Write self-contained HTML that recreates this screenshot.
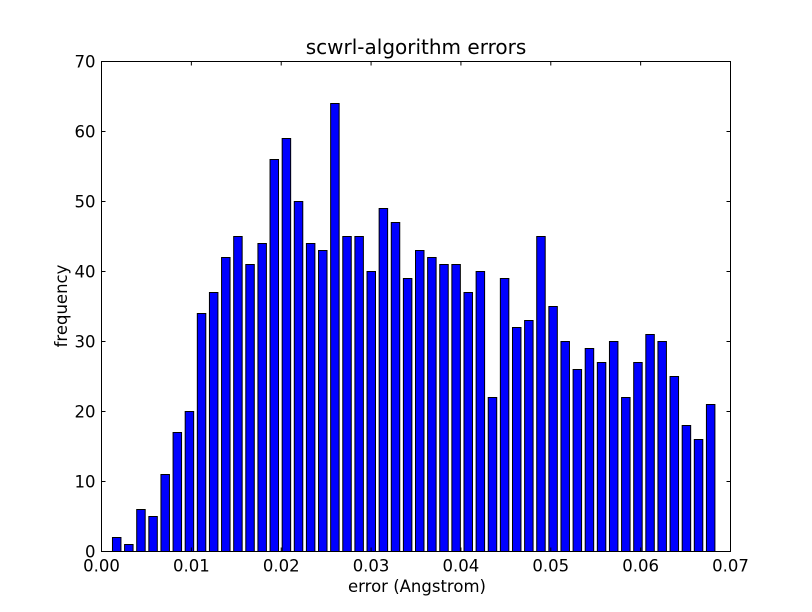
<!DOCTYPE html>
<html><head><meta charset="utf-8"><style>
body{margin:0;background:#fff;}
svg{display:block;font-family:"DejaVu Sans","Liberation Sans",sans-serif;}
</style></head><body>
<svg id="chart" width="812" height="612" viewBox="0 0 812 612">
<rect x="0" y="0" width="812" height="612" fill="#fff"/>
<g id="bars"></g>
<rect x="101.5" y="61.5" width="629" height="490" fill="none" stroke="#000" stroke-width="1"/>
<g id="ticks"></g>
<text x="416" y="54" text-anchor="middle" font-size="20">scwrl-algorithm errors</text>
<text x="417" y="592" text-anchor="middle" font-size="16.5">error (Angstrom)</text>
<text x="0" y="0" transform="translate(67,306) rotate(-90)" text-anchor="middle" font-size="16.5">frequency</text>
</svg>
<script>
const counts = [2,1,6,5,11,17,20,34,37,42,45,41,44,56,59,50,44,43,64,45,45,40,49,47,39,43,42,41,41,37,40,22,39,32,33,45,35,30,26,29,27,30,22,27,31,30,25,18,16,21];
const binStart = 0.00122;
const binWidth = 0.001349;
const xTicks = [0,0.01,0.02,0.03,0.04,0.05,0.06,0.07];
const xTickLabels = ["0.00","0.01","0.02","0.03","0.04","0.05","0.06","0.07"];
const yTicks = [0,10,20,30,40,50,60,70];
const yTickLabels = ["0","10","20","30","40","50","60","70"];

const L=101.5,R=730.5,T=61.5,B=551.5;
const xs = v => L + (v-0)/(0.07)*(R-L);
const ys = v => B - v/70*(B-T);
const NS="http://www.w3.org/2000/svg";
const bars=document.getElementById('bars');
counts.forEach((c,i)=>{
  const x0=xs(binStart+i*binWidth), x1=xs(binStart+i*binWidth+binWidth*0.7);
  const r=document.createElementNS(NS,'rect');
  r.setAttribute('x',x0);r.setAttribute('y',ys(c));
  r.setAttribute('width',x1-x0);r.setAttribute('height',ys(0)-ys(c));
  r.setAttribute('fill','#0000ff');r.setAttribute('stroke','#000');r.setAttribute('stroke-width','1');
  
  
  bars.appendChild(r);
});
const tg=document.getElementById('ticks');
function line(x1,y1,x2,y2){const l=document.createElementNS(NS,'line');l.setAttribute('x1',x1);l.setAttribute('y1',y1);l.setAttribute('x2',x2);l.setAttribute('y2',y2);l.setAttribute('stroke','#000');


tg.appendChild(l);}
function text(x,y,s,anchor){const t=document.createElementNS(NS,'text');t.setAttribute('x',x);t.setAttribute('y',y);t.setAttribute('text-anchor',anchor);t.setAttribute('font-size','16.5');t.textContent=s;


tg.appendChild(t);}
xTicks.forEach((v,i)=>{const x=xs(v);line(x,B,x,B-4);line(x,T,x,T+4);text(x,B+20,xTickLabels[i],'middle');});
yTicks.forEach((v,i)=>{const y=ys(v);line(L,y,L+4,y);line(R,y,R-4,y);text(L-6,y+6,yTickLabels[i],'end');});
</script>
</body></html>
